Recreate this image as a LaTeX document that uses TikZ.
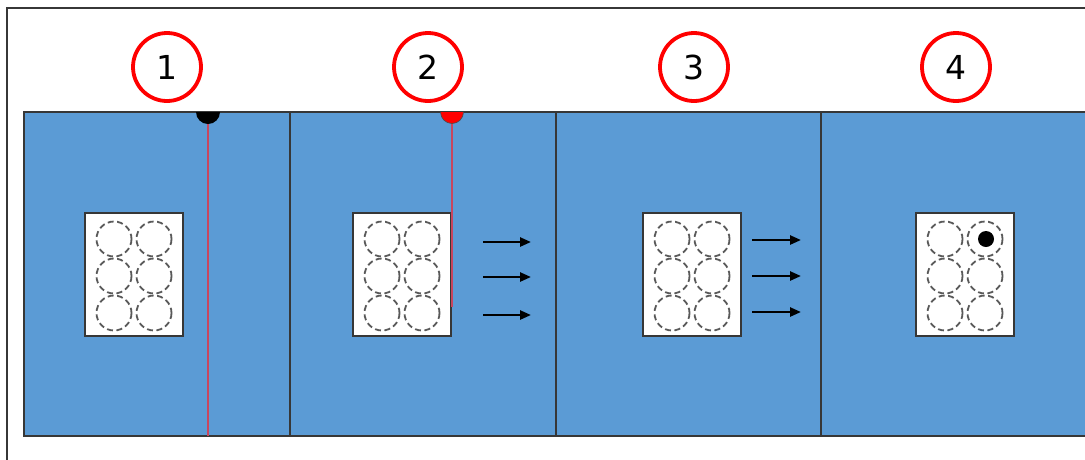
\documentclass[tikz,border=0pt]{standalone}
\usepackage{fontspec}
\setmainfont{DejaVu Sans}
\usetikzlibrary{arrows.meta}
\definecolor{panelblue}{RGB}{91,155,213}
\definecolor{edgegray}{RGB}{55,55,55}
\definecolor{probe}{RGB}{200,70,95}
\begin{document}
\begin{tikzpicture}[x=1pt,y=-1pt,
  panel/.style={draw=edgegray,line width=1.5pt,fill=panelblue},
  numcirc/.style={circle,draw=red,line width=3.8pt,minimum size=68pt,inner sep=0pt,font=\fontsize{33}{36}\selectfont},
  plate/.style={draw=edgegray,line width=1.5pt,fill=white},
  well/.style={draw=black!65,line width=1.8pt,dash pattern=on 6pt off 3.5pt},
  flow/.style={-{Triangle[length=11pt,width=9pt]},line width=2.4pt,black},
  probeline/.style={probe,line width=2pt}]
\useasboundingbox (0,0) rectangle (1085,459);
\fill[white] (0,0) rectangle (1085,459);
% outer frame
\draw[edgegray,line width=1.8pt] (7,470) -- (7,8) -- (1095,8);
% panels
\foreach \i/\x in {1/24,2/290,3/556,4/821}{
  \draw[panel] (\x,112) rectangle ++(266,324);
}
% number circles
\node[numcirc] (n1) at (167,67) {1};
\node[numcirc] (n2) at (428,67) {2};
\node[numcirc] (n3) at (694,67) {3};
\node[numcirc] (n4) at (956,67) {4};
% plates
\foreach \i/\x in {1/85,2/353,3/643,4/916}{
  \draw[plate] (\x,213) rectangle ++(98,123);
  \foreach \cx in {29,69}{
    \foreach \cy in {26,63,100}{
      \draw[well] (\x+\cx,213+\cy) circle (17.5);
    }
  }
}
% panel 1 probe
\coordinate (p1top) at (208,112);
\coordinate (p1bot) at (208,436);
\draw[probeline] (p1top) -- (p1bot);
\fill[black] (220,112) arc[start angle=0,end angle=180,radius=12] -- cycle;
% panel 2 probe
\coordinate (p2top) at (452,112);
\coordinate (p2bot) at (452,307);
\draw[probeline] (p2top) -- (p2bot);
\fill[red] (463.5,112) arc[start angle=0,end angle=180,radius=11.5] -- cycle;
\draw[black!70,line width=0.6pt] (463.5,112) arc[start angle=0,end angle=180,radius=11.5];
% arrows panel 2
\foreach \y in {242,277,315}{
  \coordinate (a\y) at (483,\y); \coordinate (b\y) at (531,\y);
  \draw[flow] (a\y) -- (b\y);
}
% arrows panel 3
\foreach \y in {240,276,312}{
  \coordinate (c\y) at (752,\y); \coordinate (d\y) at (801,\y);
  \draw[flow] (c\y) -- (d\y);
}
% sample dot panel 4
\fill[black] (986,239) circle (8);
\end{tikzpicture}
\end{document}
